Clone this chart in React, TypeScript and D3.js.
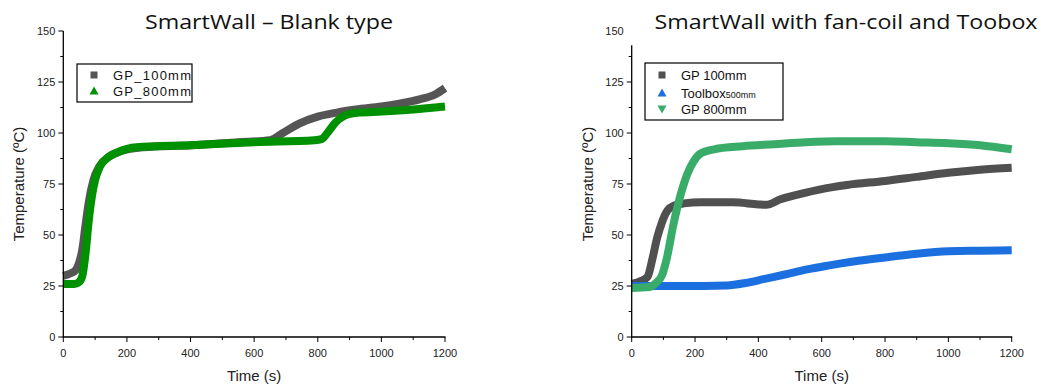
import React from "react";
import * as d3 from "d3";

// [time (s), temperature (ºC)]
const blankGP100 = [
  [0, 30], [20, 31], [40, 33], [50, 36.5], [60, 43], [70, 55], [80, 66], [95, 77], [115, 84], [145, 88.5],
  [180, 91], [250, 93], [400, 94], [550, 95.5], [650, 96.5], [690, 100], [740, 104.5],
  [800, 108], [860, 110], [920, 111.5], [1000, 113], [1060, 114.5], [1120, 116.5], [1170, 119], [1200, 122],
];
const blankGP800 = [
  [0, 26], [35, 26], [50, 27], [60, 30], [70, 41], [80, 57], [90, 69], [100, 77], [115, 83.5], [140, 88],
  [170, 90.5], [230, 93], [400, 94], [600, 95.5], [790, 96.5], [812, 97], [830, 100], [855, 105],
  [885, 108.5], [930, 110], [1000, 110.5], [1100, 111.5], [1200, 113],
];

const fanGP100 = [
  [0, 26], [30, 27.5], [50, 29.5], [65, 38], [81, 49], [95, 56], [113, 62], [135, 64.5], [165, 65.5],
  [220, 66], [320, 66], [400, 65], [425, 64.8], [470, 67.5], [530, 70], [600, 72.5], [680, 74.5],
  [800, 76.5], [900, 78.5], [1000, 80.5], [1100, 82], [1200, 83],
];
const fanToolbox = [
  [0, 25], [150, 25], [300, 25.3], [360, 26.5], [420, 28.5], [480, 30.5], [550, 33], [620, 35],
  [700, 37], [800, 39], [900, 40.8], [1000, 42], [1100, 42.3], [1200, 42.5],
];
const fanGP800 = [
  [0, 24], [55, 24.5], [80, 27], [95, 30], [110, 38], [133, 56], [155, 70], [176, 80], [195, 86],
  [218, 90], [260, 92], [350, 93.5], [450, 94.5], [550, 95.5], [650, 96], [800, 96],
  [900, 95.5], [1000, 95], [1100, 94], [1200, 92],
];

const xTicks = [0, 200, 400, 600, 800, 1000, 1200];
const yTicks = [0, 25, 50, 75, 100, 125, 150];

const Panel = ({ x0, x1, title, titleX, titleLen, series, legend, legendBox, axisTop }) => {
  const x = d3.scaleLinear().domain([0, 1200]).range([x0, x1]);
  const y = d3.scaleLinear().domain([0, 150]).range([337, 31]);
  const line = d3.line().x(d => x(d[0])).y(d => y(d[1])).curve(d3.curveMonotoneX);
  const minorX = d3.range(100, 1200, 200);
  const minorY = d3.range(12.5, 150, 25);
  const font = "'Liberation Sans', Arial, sans-serif";
  return (
    <g>
      <text x={titleX} y={29} textAnchor="middle" fontFamily="'Open Sans', sans-serif" fontSize={20}
        textLength={titleLen} lengthAdjust="spacingAndGlyphs" fill="#111">{title}</text>
      {series.map((s, i) => (
        <path key={i} d={line(s.data)} fill="none" stroke={s.color} strokeWidth={8} />
      ))}
      {/* axes */}
      <line x1={x0} x2={x0} y1={axisTop != null ? y(axisTop) : y(150)} y2={y(0) + 0.5} stroke="#000" strokeWidth={1.3} />
      <line x1={x0 - 0.5} x2={x1 + 0.5} y1={y(0)} y2={y(0)} stroke="#000" strokeWidth={1.3} />
      {yTicks.map(t => (
        <g key={t}>
          {(axisTop == null || t <= axisTop) && <line x1={x0 - 5} x2={x0} y1={y(t)} y2={y(t)} stroke="#000" />}
          <text x={x0 - 8} y={y(t)} dy="0.35em" textAnchor="end" fontFamily={font} fontSize={11} fill="#222">{t}</text>
        </g>
      ))}
      {minorY.map(t => (axisTop == null || t <= axisTop) && (
        <line key={t} x1={x0 - 3} x2={x0} y1={y(t)} y2={y(t)} stroke="#000" />
      ))}
      {xTicks.map(t => (
        <g key={t}>
          <line x1={x(t)} x2={x(t)} y1={y(0)} y2={y(0) + 5} stroke="#000" />
          <text x={x(t)} y={357} textAnchor="middle" fontFamily={font} fontSize={11} fill="#222">{t}</text>
        </g>
      ))}
      {minorX.map(t => (
        <line key={t} x1={x(t)} x2={x(t)} y1={y(0)} y2={y(0) + 3} stroke="#000" />
      ))}
      <text x={(x0 + x1) / 2} y={381} textAnchor="middle" fontFamily={font} fontSize={15} fill="#222">Time (s)</text>
      <text transform={`translate(${x0 - 39},184) rotate(-90)`} textAnchor="middle" fontFamily={font} fontSize={15} fill="#222">Temperature (ºC)</text>
      {/* legend */}
      <rect x={legendBox[0]} y={legendBox[1]} width={legendBox[2]} height={legendBox[3]} fill="#fff" stroke="#000" strokeWidth={1.2} />
      {legend.map((l, i) => {
        const mx = legendBox[0] + 17;
        const my = l.y;
        let marker;
        if (l.shape === "square") marker = <rect x={mx - 3.5} y={my - 3.5} width={7} height={7} fill={l.color} />;
        else if (l.shape === "up") marker = <path d={`M${mx},${my - 4.5}L${mx + 4.5},${my + 3.5}L${mx - 4.5},${my + 3.5}Z`} fill={l.color} />;
        else marker = <path d={`M${mx},${my + 4.5}L${mx + 4.5},${my - 3.5}L${mx - 4.5},${my - 3.5}Z`} fill={l.color} />;
        return (
          <g key={i}>
            {marker}
            <text x={legendBox[0] + 36} y={my} dy="0.35em" fontFamily={font} fontSize={13} fill="#111"
              textLength={l.len} lengthAdjust="spacing">
              {l.label}
              {l.sub && <tspan fontSize={9}>{l.sub}</tspan>}
            </text>
          </g>
        );
      })}
    </g>
  );
};

export default function App() {
  return (
    <svg width={1041} height={387} style={{ position: "absolute", left: 0, top: 0, background: "#fff" }}>
      <rect width={1041} height={387} fill="#fff" />
      <Panel
        x0={63.3} x1={445} title="SmartWall – Blank type" titleX={269} titleLen={248}
        series={[
          { data: blankGP100, color: "#555555" },
          { data: blankGP800, color: "#009100" },
        ]}
        legendBox={[77, 64, 115, 38]}
        legend={[
          { label: "GP_100mm", color: "#555555", shape: "square", y: 75, len: 78 },
          { label: "GP_800mm", color: "#009100", shape: "up", y: 91, len: 78 },
        ]}
      />
      <Panel
        x0={631.7} x1={1011.7} title="SmartWall with fan-coil and Toobox" titleX={846} titleLen={383}
        axisTop={143}
        series={[
          { data: fanGP100, color: "#505050" },
          { data: fanToolbox, color: "#1c6fdf" },
          { data: fanGP800, color: "#3aac6a" },
        ]}
        legendBox={[645, 63, 138, 57]}
        legend={[
          { label: "GP 100mm", color: "#505050", shape: "square", y: 75 },
          { label: "Toolbox", sub: "500mm", color: "#1c6fdf", shape: "up", y: 93 },
          { label: "GP 800mm", color: "#3aac6a", shape: "down", y: 109 },
        ]}
      />
    </svg>
  );
}
